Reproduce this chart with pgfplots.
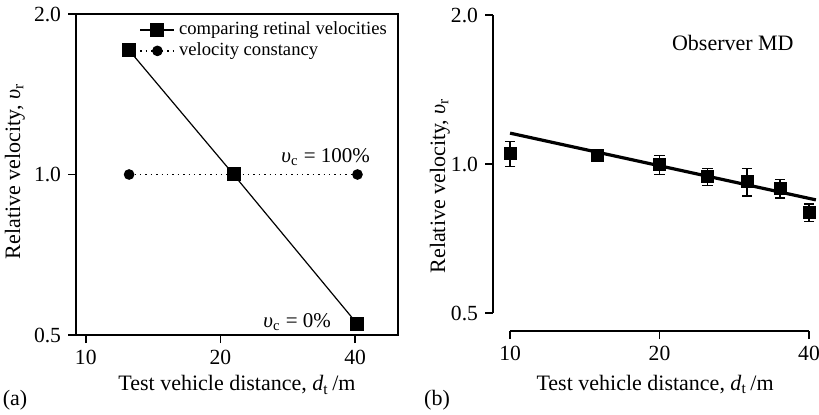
\documentclass[border=0pt]{standalone}
\usepackage{pgfplots}
\pgfplotsset{compat=1.18}
\usepackage{fontspec}
\setmainfont{Liberation Serif}
\begin{document}
\begin{tikzpicture}
\useasboundingbox (0pt,0pt) rectangle (409.5pt,207pt);
% ---------------- panel (a)
\begin{axis}[
  at={(38pt,39.5pt)}, anchor=south west,
  scale only axis, width=161pt, height=160.5pt,
  xmode=log, ymode=log,
  xmin=9.51, xmax=49.9, ymin=0.5, ymax=2,
  xtick={10,20,40}, xticklabels={10,20,40},
  ytick={0.5,1,2}, yticklabels={0.5,1.0,2.0},
  xminorticks=false, yminorticks=false,
  xtick pos=left, ytick pos=left,
  tick align=outside, major tick length=4pt,
  axis line style={line width=0.9pt},
  tick style={line width=0.8pt, black},
  tick label style={font=\fontsize{10.8}{12}\selectfont},
  xlabel={Test vehicle distance, \textit{d}\textsubscript{t}\,/m},
  ylabel={Relative velocity, \textit{υ}\textsubscript{r}},
  xlabel style={at={(axis description cs:0.5,-0.156)}, anchor=center},
  ylabel style={at={(axis description cs:-0.19,0.51)}, anchor=center},
  label style={font=\fontsize{11}{12}\selectfont},
  legend style={draw=none, fill=none, at={(0.985,0.995)}, anchor=north east,
    font=\fontsize{9.3}{11}\selectfont, row sep=-1.5pt, inner sep=1pt},
  legend cell align=left,
  clip=false,
]
\addplot[black, line width=0.6pt, mark=square*, mark size=3.2pt, mark options={solid}]
  coordinates {(12.5,1.71) (21.4,1.0) (40.5,0.524)};
\addlegendentry{comparing retinal velocities}
\addplot[black, line width=0.7pt, dotted, mark=*, mark size=2.3pt, mark options={solid}]
  coordinates {(12.5,1.0) (40.5,1.0)};
\addlegendentry{velocity constancy}
\node[font=\fontsize{10.5}{12}\selectfont] at (axis cs:34.4,1.078)
  {\textit{υ}\textsubscript{c}\ =\ 100\%};
\node[font=\fontsize{10.5}{12}\selectfont] at (axis cs:29.7,0.528)
  {\textit{υ}\textsubscript{c}\ =\ 0\%};
\end{axis}
\node[font=\fontsize{11}{12}\selectfont] at (7.5pt,7pt) {(a)};
% ---------------- panel (b)
\begin{axis}[
  at={(246.5pt,41.5pt)}, anchor=south west,
  scale only axis, width=158pt, height=158pt,
  xmode=log, ymode=log,
  xmin=9.24, xmax=40, ymin=0.4605, ymax=2,
  xtick pos=left, ytick pos=left,
  axis line style={draw=none},
  xtick={10,20,40}, xticklabels={10,20,40},
  ytick={0.5,1,2}, yticklabels={0.5,1.0,2.0},
  xminorticks=false, yminorticks=false,
  tick align=outside, major tick length=4pt,
  tick style={line width=0.8pt, black},
  tick label style={font=\fontsize{10.8}{12}\selectfont},
  xlabel={Test vehicle distance, \textit{d}\textsubscript{t}\,/m},
  ylabel={Relative velocity, \textit{υ}\textsubscript{r}},
  xlabel style={at={(axis description cs:0.513,-0.17)}, anchor=center},
  ylabel style={at={(axis description cs:-0.168,0.46)}, anchor=center},
  label style={font=\fontsize{11}{12}\selectfont},
  clip=false,
]
\draw[line width=0.9pt] (axis cs:10,0.4605) -- (axis cs:40,0.4605);
\draw[line width=0.9pt] (axis cs:9.24,0.5) -- (axis cs:9.24,2);
\addplot[black, line width=1.6pt, no marks] coordinates {(10,1.155) (41.3,0.847)};
\addplot[black, only marks, mark=square*, mark size=3pt,
  error bars/.cd, y dir=both, y explicit,
  error bar style={line width=0.7pt, black},
  error mark options={rotate=90, mark size=2.6pt, line width=0.7pt, black}]
  table[x=x, y=y, y error plus=ep, y error minus=em] {
x y ep em
10 1.05 0.06 0.06
15 1.04 0.012 0.012
20 1.00 0.04 0.048
25 0.944 0.036 0.039
30 0.925 0.055 0.062
35 0.894 0.036 0.040
40 0.800 0.031 0.034
};
\node[font=\fontsize{11}{12}\selectfont] at (axis cs:28.1,1.76) {Observer MD};
\end{axis}
\node[font=\fontsize{11}{12}\selectfont] at (218.5pt,7pt) {(b)};
\end{tikzpicture}
\end{document}
